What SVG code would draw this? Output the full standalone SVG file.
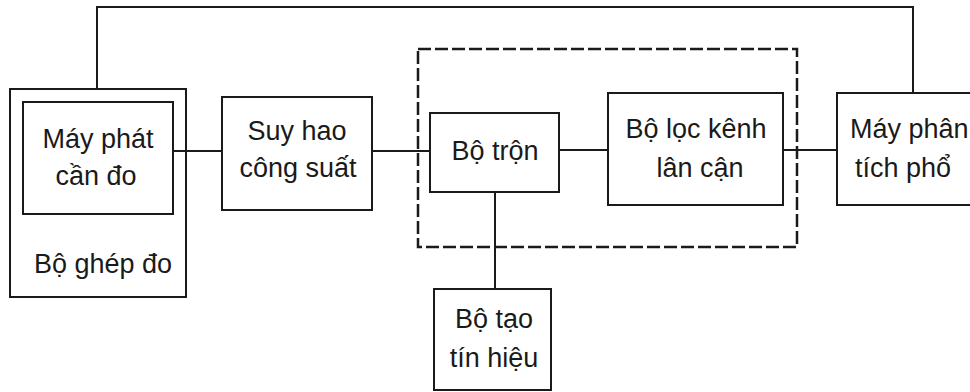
<svg xmlns="http://www.w3.org/2000/svg" width="970" height="392" viewBox="0 0 970 392">
<style>
.box{fill:none;stroke:#1a1a1a;stroke-width:2}
.ln{fill:none;stroke:#1a1a1a;stroke-width:2}
.dash{fill:none;stroke:#1a1a1a;stroke-width:2.5;stroke-dasharray:13 4}
text{font-family:"Liberation Sans",Arial,sans-serif;font-size:27px;fill:#1a1a1a}
.c{text-anchor:middle}
</style>
<rect width="970" height="392" fill="#ffffff"/>
<g id="connectors">
<polyline class="ln" points="97,89 97,7 913,7 913,93"/>
<line class="ln" x1="173" y1="151" x2="222" y2="151"/>
<line class="ln" x1="372" y1="151" x2="430" y2="151"/>
<line class="ln" x1="559" y1="150" x2="608" y2="150"/>
<line class="ln" x1="783" y1="150" x2="837" y2="150"/>
<line class="ln" x1="495" y1="192" x2="495" y2="289"/>
</g>
<g id="group-dashed">
<rect class="dash" x="418" y="49" width="379" height="198"/>
</g>
<g id="bo-ghep-do">
<rect class="box" x="10" y="89" width="176" height="208"/>
<text class="c" x="103" y="273">Bộ ghép đo</text>
</g>
<g id="may-phat">
<rect class="box" x="23" y="102" width="150" height="112"/>
<text class="c" x="98" y="148">Máy phát</text>
<text class="c" x="96" y="185">cần đo</text>
</g>
<g id="suy-hao">
<rect class="box" x="222" y="97" width="150" height="113"/>
<text class="c" x="297" y="140">Suy hao</text>
<text class="c" x="298" y="177">công suất</text>
</g>
<g id="bo-tron">
<rect class="box" x="430" y="113" width="129" height="79"/>
<text class="c" x="495" y="160">Bộ trộn</text>
</g>
<g id="bo-loc">
<rect class="box" x="608" y="93" width="175" height="112"/>
<text class="c" x="696" y="138">Bộ lọc kênh</text>
<text class="c" x="700" y="177">lân cận</text>
</g>
<g id="may-phan-tich">
<rect class="box" x="837" y="93" width="150" height="112"/>
<text x="850" y="138">Máy phân</text>
<text x="855" y="177">tích phổ</text>
</g>
<g id="bo-tao">
<rect class="box" x="434" y="289" width="117" height="101"/>
<text class="c" x="494" y="328">Bộ tạo</text>
<text class="c" x="494" y="367">tín hiệu</text>
</g>
</svg>
